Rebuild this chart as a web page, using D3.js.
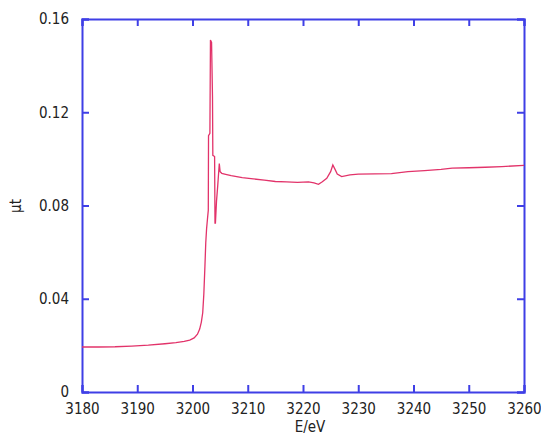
<!DOCTYPE html>
<html>
<head>
<meta charset="utf-8">
<script src="https://cdn.jsdelivr.net/npm/d3@7"></script>
<style>
  body { margin: 0; background: #fff; }
  svg { display: block; }
  text { font-family: "Liberation Sans Narrow", "DejaVu Sans Condensed", "Liberation Sans", sans-serif; fill: #222; }
</style>
</head>
<body>
<div class="container"></div>
<script>
// energy (eV) and absorption (mu t)
const energy = [3180, 3183, 3186, 3189, 3192, 3195, 3197, 3198.5, 3199.5, 3200.3,
  3200.9, 3201.3, 3201.6, 3201.85, 3202.05, 3202.25, 3202.4, 3202.55, 3202.7, 3202.86,
  3202.9, 3203.15, 3203.25, 3203.45, 3203.62, 3203.68, 3204.0, 3204.07, 3204.15, 3204.35,
  3204.55, 3204.85, 3205.0, 3205.3, 3206, 3207, 3209, 3211, 3213, 3215,
  3217, 3219, 3221, 3222, 3222.8, 3223.5, 3224.3, 3225, 3225.4, 3225.8,
  3226.2, 3227, 3228.5, 3230, 3233, 3236, 3239, 3242, 3245, 3247,
  3250, 3253, 3256, 3260]
const mut = [0.0193, 0.0193, 0.0194, 0.0197, 0.0201, 0.0207, 0.0212, 0.0217, 0.0223, 0.0232,
  0.0248, 0.0270, 0.0300, 0.0340, 0.0420, 0.0540, 0.0640, 0.0700, 0.0740, 0.0780,
  0.1100, 0.1110, 0.1510, 0.1500, 0.1265, 0.1015, 0.1010, 0.0725, 0.0725, 0.0820,
  0.0880, 0.0980, 0.0945, 0.0938, 0.0934, 0.0928, 0.0920, 0.0914, 0.0909, 0.0903,
  0.0901, 0.0899, 0.0901, 0.0897, 0.0891, 0.0902, 0.0917, 0.0945, 0.0974, 0.0955,
  0.0935, 0.0924, 0.0931, 0.0935, 0.0936, 0.0937, 0.0945, 0.0950, 0.0955, 0.0960,
  0.0962, 0.0964, 0.0967, 0.0972]
const xTicks = [3180, 3190, 3200, 3210, 3220, 3230, 3240, 3250, 3260]
const yTicks = [0, 0.04, 0.08, 0.12, 0.16]
const yTickLabels = ['0', '0.04', '0.08', '0.12', '0.16']

const data = energy.map((e, i) => ({ e: e, v: mut[i] }))

let margin = { top: 19, left: 82, bottom: 51, right: 17 }
const W = 541, H = 443
const width = W - margin.left - margin.right
const height = H - margin.top - margin.bottom
const axisColor = '#3f3fe6'
const lineColor = '#e2336a'

const svg = d3.select('.container').append('svg')
  .attr('width', W)
  .attr('height', H)
const g = svg.append('g')
  .attr('transform', `translate(${margin.left},${margin.top})`)

const x = d3.scaleLinear().domain([3180, 3260]).range([0, width])
const y = d3.scaleLinear().domain([0, 0.16]).range([height, 0])

// axes, ticks pointing inward on all four sides
const axBottom = g.append('g').attr('transform', `translate(0,${height})`)
  .call(d3.axisBottom(x).tickValues(xTicks).tickSize(-7).tickPadding(9).tickFormat(d3.format('d')))
const axTop = g.append('g')
  .call(d3.axisTop(x).tickValues(xTicks).tickSize(-7).tickFormat(''))
const axLeft = g.append('g')
  .call(d3.axisLeft(y).tickValues(yTicks).tickSize(-7).tickPadding(13).tickFormat((d, i) => yTickLabels[i]))
const axRight = g.append('g').attr('transform', `translate(${width},0)`)
  .call(d3.axisRight(y).tickValues(yTicks).tickSize(-7).tickFormat(''))

;[axBottom, axTop, axLeft, axRight].forEach(a => {
  a.select('.domain').attr('stroke', axisColor).attr('stroke-width', 2)
  a.selectAll('.tick line').attr('stroke', axisColor).attr('stroke-width', 2)
  a.selectAll('.tick text').style('font-size', '15px').attr('fill', '#222')
})
axBottom.selectAll('.tick text').attr('dy', '0.85em')

// curve
g.append('path')
  .datum(data)
  .attr('fill', 'none')
  .attr('stroke', lineColor)
  .attr('stroke-width', 1.3)
  .attr('d', d3.line().x(d => x(d.e)).y(d => y(d.v)))

// axis titles
svg.append('text')
  .attr('x', 310)
  .attr('y', 432)
  .attr('text-anchor', 'middle')
  .style('font-size', '15px')
  .text('E/eV')

svg.append('text')
  .attr('transform', 'translate(21,206) rotate(-90)')
  .attr('text-anchor', 'middle')
  .style('font-size', '15px')
  .text('μt')
</script>
</body>
</html>
